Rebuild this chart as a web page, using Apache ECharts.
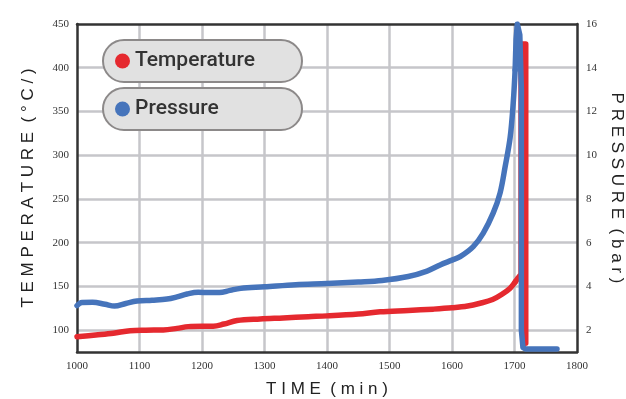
<!DOCTYPE html>
<html>
<head>
<meta charset="utf-8">
<script src="https://cdn.jsdelivr.net/npm/echarts@6/dist/echarts.min.js"></script>
<style>
html,body{margin:0;padding:0;background:#fff;}
#chart{width:626px;height:399px;}
</style>
</head>
<body>
<div id="chart"></div>
<script>
// ---- data ----
const tempTime = [1000,1030,1058,1085,1110,1138,1160,1178,1200,1218,1235,1256,1293,1330,1370,1400,1450,1485,1530,1570,1600,1625,1645,1665,1680,1693,1701,1706,1710.5,1710.5,1718,1718];
const tempValues = [92.5,94.5,96.5,99.4,100,100.2,102,104,104.5,104.5,107,111,112.8,114,115.4,116.3,118.5,121,122.5,124,125.5,127.5,130.7,135,141,148,155,160,164,427,427,85];
const tempSpikeFrom = 1701;   // points from this time on are drawn as straight segments

const presTime = [1000,1008,1025,1045,1060,1078,1096,1120,1144,1160,1176,1194,1210,1228,1245,1262,1300,1350,1400,1450,1488,1530,1560,1581,1600,1613,1634,1650,1666,1677,1685,1693,1698,1701,1702.5,1704.5,1708.5,1711,1711,1713.5,1718,1768];
const presValues = [3.12,3.26,3.27,3.18,3.1,3.22,3.33,3.37,3.42,3.52,3.65,3.73,3.72,3.72,3.82,3.91,3.98,4.08,4.13,4.2,4.27,4.45,4.7,4.98,5.2,5.36,5.82,6.44,7.36,8.28,9.47,10.8,12.4,13.9,15.3,16,15.5,13,2,1.2,1.14,1.14];
const presSpikeFrom = 1701;

const xLabels = [1000,1100,1200,1300,1400,1500,1600,1700,1800];
const xGrid = [1100,1200,1300,1400,1500,1600,1700];
const tempLabels = [100,150,200,250,300,350,400,450];
const tempGrid = [100,150,200,250,300,350,400];
const presLabels = [2,4,6,8,10,12,14,16];

const seriesNames = ['Temperature','Pressure'];
const colors = ['#e5292f','#4674bb'];

// ---- helpers ----
function pairs(ts, vs){ return ts.map((t,i)=>[t,vs[i]]); }
function smoothPart(ts, vs, from){ const k = ts.indexOf(from); return pairs(ts.slice(0,k+1), vs.slice(0,k+1)); }
function spikePart(ts, vs, from){ const k = ts.indexOf(from); return pairs(ts.slice(k), vs.slice(k)); }

// ---- chart ----
const chart = echarts.init(document.getElementById('chart'), null, {renderer:'canvas'});
const tickFont = {fontFamily:'Liberation Serif', fontSize:11, color:'#333', formatter:(v)=>String(v)};
const nameFont = {fontFamily:'Liberation Sans', fontSize:17, color:'#222'};
const axisLineStyle = {color:'#333', width:2.5};
const gridLine = {color:'#c6c6ca', width:2.5};

const legendBase = {
  icon:'circle', itemWidth:15, itemHeight:15, left:103, orient:'horizontal',
  padding:[9,7,9,12], backgroundColor:'#e1e1e1', borderColor:'#8c8989', borderWidth:2, borderRadius:22,
  selectedMode:false,
  textStyle:{fontFamily:'Roboto, sans-serif', fontSize:21, fontWeight:500, color:'#333', width:160, lineHeight:24}
};

function lineSeries(name, axis, color, data, smooth){
  return {name:name, type:'line', yAxisIndex:axis, xAxisIndex:0, showSymbol:false, symbol:'none',
    smooth:smooth, lineStyle:{width:5.5, color:color, cap:'round', join:'round'}, itemStyle:{color:color}, data:data};
}

chart.setOption({
  animation:false,
  color:colors,
  grid:{left:77, right:49, top:24, bottom:47, outerBoundsMode:'none', containLabel:false},
  legend:[
    Object.assign({}, legendBase, {data:[seriesNames[0]], top:40}),
    Object.assign({}, legendBase, {data:[seriesNames[1]], top:88})
  ],
  xAxis:[
    {type:'value', min:1000, max:1800, position:'bottom',
     name:'T I M E  ( m i n )', nameLocation:'middle', nameGap:29, nameTextStyle:nameFont,
     axisLine:{show:true, lineStyle:axisLineStyle},
     axisTick:{show:false, customValues:xGrid},
     axisLabel:{customValues:xLabels, margin:9, ...tickFont},
     splitLine:{show:true, lineStyle:gridLine}},
    {type:'value', min:1000, max:1800, position:'top',
     axisLine:{show:true, lineStyle:axisLineStyle},
     axisTick:{show:false}, axisLabel:{show:false}, splitLine:{show:false}}
  ],
  yAxis:[
    {type:'value', min:75, max:450, position:'left',
     name:'T E M P E R A T U R E  ( ° C / )', nameLocation:'middle', nameGap:40, nameRotate:90, nameTextStyle:nameFont,
     axisLine:{show:true, lineStyle:axisLineStyle},
     axisTick:{show:false, customValues:tempGrid},
     axisLabel:{customValues:tempLabels, margin:8, ...tickFont},
     splitLine:{show:true, lineStyle:gridLine}},
    {type:'value', min:1, max:16, position:'right',
     name:'P R E S S U R E  ( b a r )', nameLocation:'middle', nameGap:30, nameRotate:-90, nameTextStyle:nameFont,
     axisLine:{show:true, lineStyle:axisLineStyle},
     axisTick:{show:false, customValues:presLabels},
     axisLabel:{customValues:presLabels, margin:9, ...tickFont},
     splitLine:{show:false}}
  ],
  series:[
    lineSeries(seriesNames[0], 0, colors[0], smoothPart(tempTime, tempValues, tempSpikeFrom), 0.35),
    lineSeries(seriesNames[0], 0, colors[0], spikePart(tempTime, tempValues, tempSpikeFrom), false),
    lineSeries(seriesNames[1], 1, colors[1], smoothPart(presTime, presValues, presSpikeFrom), 0.35),
    lineSeries(seriesNames[1], 1, colors[1], spikePart(presTime, presValues, presSpikeFrom), false)
  ]
});
</script>
</body>
</html>
